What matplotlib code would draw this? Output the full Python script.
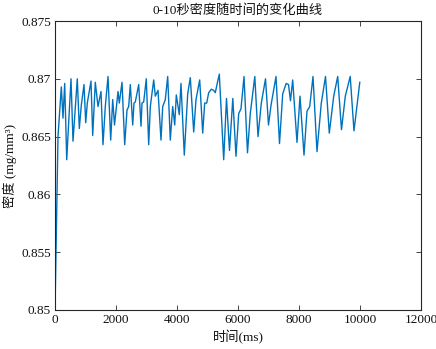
import matplotlib
matplotlib.use("Agg")
import matplotlib.pyplot as plt

plt.rcParams['font.family'] = ['Liberation Serif', 'Noto Sans CJK SC', 'DejaVu Sans']

time_ms = [0, 98, 207, 262, 318, 384, 525, 590, 731, 797, 862, 951, 1007, 1059, 1180, 1236,
           1321, 1410, 1508, 1574, 1649, 1738, 1826, 1892, 1951, 2066, 2108, 2197, 2285, 2361,
           2416, 2469, 2548, 2590, 2633, 2744, 2820, 2852, 2908, 2993, 3072, 3125, 3236, 3289,
           3377, 3475, 3531, 3616, 3695, 3780, 3859, 3925, 3977, 4075, 4131, 4239, 4351, 4436,
           4548, 4623, 4744, 4843, 4908, 4974, 5039, 5125, 5203, 5256, 5311, 5387, 5531, 5623,
           5721, 5830, 5934, 6023, 6098, 6197, 6311, 6403, 6551, 6656, 6764, 6902, 7000, 7082,
           7246, 7361, 7466, 7580, 7656, 7721, 7793, 7934, 8033, 8164, 8262, 8351, 8459, 8590,
           8731, 8869, 8993, 9138, 9269, 9393, 9518, 9679, 9803, 9993]

density = [0.8500, 0.8650, 0.8693, 0.8666, 0.8696, 0.8630, 0.8700, 0.8646, 0.8700, 0.8657,
           0.8677, 0.8695, 0.8662, 0.8679, 0.8698, 0.8651, 0.8697, 0.8676, 0.8689, 0.8643,
           0.8676, 0.8702, 0.8647, 0.8682, 0.8660, 0.8689, 0.8679, 0.8697, 0.8643, 0.8673,
           0.8676, 0.8695, 0.8660, 0.8679, 0.8680, 0.8695, 0.8659, 0.8679, 0.8680, 0.8700,
           0.8643, 0.8676, 0.8699, 0.8685, 0.8690, 0.8647, 0.8676, 0.8682, 0.8702, 0.8647,
           0.8676, 0.8660, 0.8686, 0.8669, 0.8696, 0.8634, 0.8687, 0.8701, 0.8654, 0.8682,
           0.8699, 0.8653, 0.8679, 0.8679, 0.8688, 0.8691, 0.8690, 0.8688, 0.8695, 0.8704,
           0.8630, 0.8683, 0.8638, 0.8683, 0.8633, 0.8670, 0.8674, 0.8702, 0.8636, 0.8670,
           0.8702, 0.8650, 0.8679, 0.8700, 0.8660, 0.8677, 0.8702, 0.8644, 0.8687, 0.8696,
           0.8695, 0.8681, 0.8699, 0.8645, 0.8685, 0.8634, 0.8672, 0.8676, 0.8702, 0.8637,
           0.8679, 0.8702, 0.8653, 0.8685, 0.8702, 0.8656, 0.8685, 0.8702, 0.8655, 0.8697]

x_ticks = [0, 2000, 4000, 6000, 8000, 10000, 12000]
y_ticks = [0.85, 0.855, 0.86, 0.865, 0.87, 0.875]
y_tick_labels = ['0.85', '0.855', '0.86', '0.865', '0.87', '0.875']

title = '0-10秒密度随时间的变化曲线'
x_label = '时间(ms)'
y_label = '密度 (mg/mm³)'

fig = plt.figure(figsize=(4.36, 3.49), dpi=100)
ax = fig.add_axes([55/436, 1 - 310/349, (421 - 55)/436, (310 - 21)/349])

ax.plot(time_ms, density, color='#0072BD', linewidth=1.0)

ax.set_xlim(0, 12000)
ax.set_ylim(0.85, 0.875)
ax.set_xticks(x_ticks)
ax.set_xticklabels([str(v) for v in x_ticks])
ax.set_yticks(y_ticks)
ax.set_yticklabels(y_tick_labels)

for s in ax.spines.values():
    s.set_color('#262626')
    s.set_linewidth(0.8)
ax.tick_params(direction='in', length=3.5, width=0.6, color='#262626',
               labelsize=9.5, labelcolor='#111111', top=True, right=True, pad=3)

ax.set_title(title, fontsize=9.5, color='#111111', pad=5)
ax.set_xlabel(x_label, fontsize=9.5, color='#111111', labelpad=3)
ax.set_ylabel(y_label, fontsize=9.5, color='#111111', labelpad=3)

fig.savefig('out.png', dpi=100)
